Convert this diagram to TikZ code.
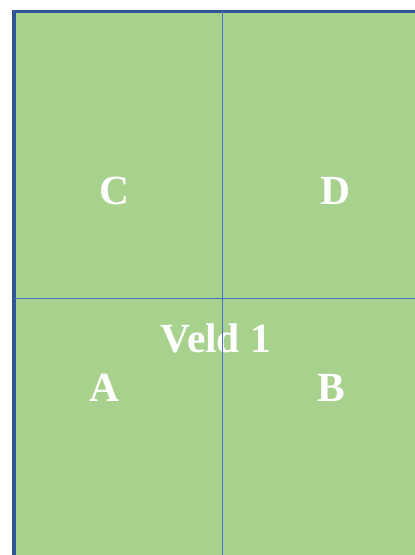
\documentclass[tikz,border=0pt]{standalone}
\usepackage{fontspec}
\setmainfont{Liberation Serif}
\usepackage{tikz}
\usetikzlibrary{positioning}
\definecolor{fieldgreen}{RGB}{169,209,142}
\definecolor{borderblue}{RGB}{47,85,151}
\definecolor{gridblue}{RGB}{68,114,196}

\tikzset{
  plotlabel/.style={text=white, font=\fontsize{41.5}{48}\selectfont\bfseries, inner sep=0pt, anchor=base},
  gridline/.style={gridblue, line width=1.1pt}
}

\begin{document}
\begin{tikzpicture}[x=1pt,y=1pt]
  \clip (0,0) rectangle (415,555);
  % Field
  \draw[fill=fieldgreen, draw=borderblue, line width=3.2pt] (14,-20) rectangle (440,543.5);

  % Labels
  \node[plotlabel] (plotC) at (114,350.7) {C};
  \node[plotlabel] (plotD) at (335,350.7) {D};
  \node[plotlabel] (plotA) at (104,153.3) {A};
  \node[plotlabel] (plotB) at (331,153.3) {B};
  \node[plotlabel] (veld) at (216,202) {Veld 1};

  % Grid
  \draw[gridline] (222.5,543.5) -- (222.5,-20);
  \draw[gridline] (14,256.5) -- (440,256.5);
\end{tikzpicture}
\end{document}
